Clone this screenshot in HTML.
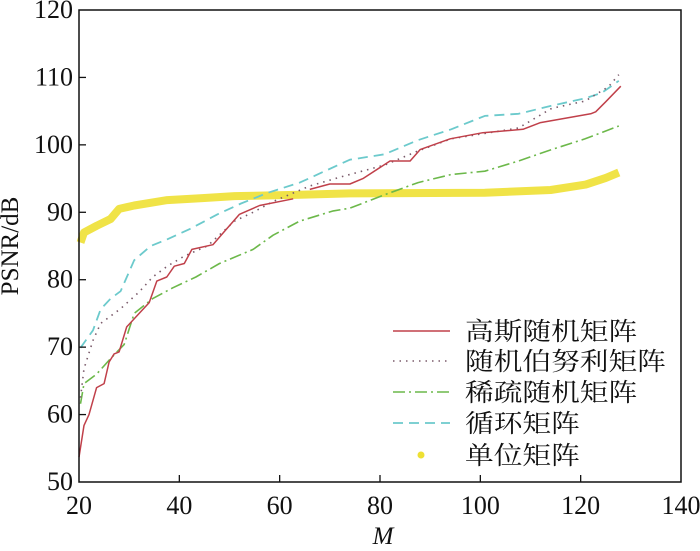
<!DOCTYPE html>
<html><head><meta charset="utf-8"><style>
html,body{margin:0;padding:0;background:#fff;}
svg{display:block;}
text{font-family:"Liberation Serif","Noto Serif CJK SC",serif;fill:#111;}
</style></head><body>
<svg id="chart" width="700" height="551" viewBox="0 0 700 551" xmlns="http://www.w3.org/2000/svg">
<g id="plot"></g>
<g id="axes"></g>
<g id="legend"></g>
</svg>
<script>
const xTicks=[20,40,60,80,100,120,140];
const yTicks=[50,60,70,80,90,100,110,120];
const gaussM=[20,21,22,23.5,25,26,27,28,29.5,32,34,35.5,37.5,39,41,42.5,46.7,48.8,52,56,62.7,66,70,74,76.6,82,86,88,94,100.5,108.5,112,122,123,125,128];
const gaussV=[53.7,58.4,60,64,64.6,67.8,69,69.3,73,75,76.6,79.8,80.4,82,82.4,84.5,85.2,87,89.7,91,92,93.4,94.2,94.2,95,97.6,97.6,99.3,100.9,101.8,102.3,103.3,104.6,104.9,106.4,108.7];
const gaussGapAfter=[20];
const bernM=[20.3,21,22.8,24.3,26.3,28.3,32,34.7,37.6,41,45.6,51,54.7,58.7,66,72,80.9,87.6,94.2,100.9,107.6,114.2,120.9,125.5,127.6];
const bernV=[62.5,66.8,71,73.5,74.6,75.7,78.2,80.4,82,83.5,85,88.7,90,91.6,93.9,95.2,97,99.1,100.9,101.7,102.5,105.4,106.5,108.6,110.4];
const sparseM=[20.3,21,23.5,26.3,29,31,34.7,38.7,43.3,48,54.7,58.7,64,70.7,74,80.9,87.6,94.2,100.9,107.6,114.2,120.9,127.6];
const sparseV=[61.6,64.6,66,68.3,70.4,75,77.2,78.8,80.4,82.4,84.5,86.6,88.7,90.2,90.6,92.6,94.4,95.6,96.1,97.6,99.3,100.9,102.8];
const circM=[20.3,22.8,24.3,26.3,28.3,31,34.3,37.6,42.3,47.6,52.3,57.7,64,74,80.9,87.6,94.2,100.9,107.6,114.2,120.9,124.2,127.6];
const circV=[69.9,72.5,75.6,77.2,78.3,82.9,85,86,87.6,89.7,91.3,92.9,94.4,97.8,98.6,100.7,102.3,104.3,104.6,105.8,106.9,107.7,109.5];
const identM=[20.3,21,23.5,26.3,28,31,37.6,44.6,51,64,74,100.9,114,121,125,127.6];
const identV=[85.5,87,88,89,90.5,91,91.8,92.1,92.4,92.6,92.8,92.9,93.3,94.1,95.1,95.9];
const legendLabels=["高斯随机矩阵","随机伯努利矩阵","稀疏随机矩阵","循环矩阵","单位矩阵"];

const NS="http://www.w3.org/2000/svg";
const L=79,R=681,T=10,B=482;
function xs(v){return L+(v-20)/(140-20)*(R-L);}
function ys(v){return B-(v-50)/(120-50)*(B-T);}
function mk(tag,attrs,parent){const e=document.createElementNS(NS,tag);for(const k in attrs)e.setAttribute(k,attrs[k]);parent.appendChild(e);return e;}
const plot=document.getElementById('plot'),axes=document.getElementById('axes'),legend=document.getElementById('legend');

const series=[
 {m:identM,v:identV,c:"#eee033",w:8,d:"",name:"identity-matrix-line",op:0.9,gaps:[]},
 {m:sparseM,v:sparseV,c:"#6cb84a",w:1.6,d:"12,4,2,4",name:"sparse-random-line",op:1,gaps:[]},
 {m:circM,v:circV,c:"#6ccacc",w:1.8,d:"10,6",name:"circulant-line",op:1,gaps:[]},
 {m:bernM,v:bernV,c:"#7a5a6a",w:1.6,d:"1.5,5",name:"bernoulli-line",op:1,gaps:[]},
 {m:gaussM,v:gaussV,c:"#c0404a",w:1.5,d:"",name:"gaussian-line",op:1,gaps:gaussGapAfter}
];
series.forEach(s=>{
  const segs=[];let cur=[];
  s.m.forEach((m,i)=>{cur.push(xs(m).toFixed(1)+","+ys(s.v[i]).toFixed(1));if(s.gaps.indexOf(i)>=0){segs.push(cur);cur=[];}});
  segs.push(cur);
  segs.forEach(seg=>{
    const p=mk('polyline',{points:seg.join(" "),fill:"none",stroke:s.c,"stroke-width":s.w,"stroke-linecap":"butt","stroke-linejoin":"round",opacity:s.op},plot);
    if(s.d)p.setAttribute('stroke-dasharray',s.d);
    
    
  });
});

const frame=mk('rect',{x:L,y:T,width:R-L,height:B-T,fill:"none",stroke:"#111","stroke-width":1.5},axes);


xTicks.forEach(t=>{
  const x=xs(t);
  if(t>20&&t<140){const tk=mk('line',{x1:x,y1:B,x2:x,y2:B-7,stroke:"#111","stroke-width":1.3},axes);
  
  }
  const tx=mk('text',{x:x,y:514,"text-anchor":"middle","font-size":26},axes);
  tx.textContent=t;
  
  
});
yTicks.forEach(t=>{
  const y=ys(t);
  if(t>50&&t<120){const tk=mk('line',{x1:L,y1:y,x2:L+7,y2:y,stroke:"#111","stroke-width":1.3},axes);
  
  }
  const tx=mk('text',{x:73,y:y+8,"text-anchor":"end","font-size":26},axes);
  tx.textContent=t;
  
  
});
const xt=mk('text',{x:383,y:544,"text-anchor":"middle","font-size":25,"font-style":"italic"},axes);
xt.textContent="M";


const yt=mk('text',{x:0,y:0,"text-anchor":"middle","font-size":25,transform:"translate(18,246) rotate(-90)"},axes);
yt.textContent="PSNR/dB";



const legRows=[331,361,392,423,455];
const legStyle=[series[4],series[3],series[1],series[2],series[0]];
legendLabels.forEach((lab,i)=>{
  const g=mk('g',{},legend);
  
  
  const s=legStyle[i],y=legRows[i];
  if(i===4){mk('circle',{cx:421,cy:y,r:3.5,fill:s.c},g);}
  else{const ln=mk('line',{x1:393,y1:y,x2:450,y2:y,stroke:s.c,"stroke-width":Math.min(s.w,2)},g);
    if(s.d)ln.setAttribute('stroke-dasharray',s.d);}
  const tx=mk('text',{x:465,y:y+9,"font-size":25},g);
  tx.setAttribute('textLength',lab.length*28.7);
  tx.setAttribute('lengthAdjust','spacingAndGlyphs');
  tx.textContent=lab;
});
</script>
</body></html>
